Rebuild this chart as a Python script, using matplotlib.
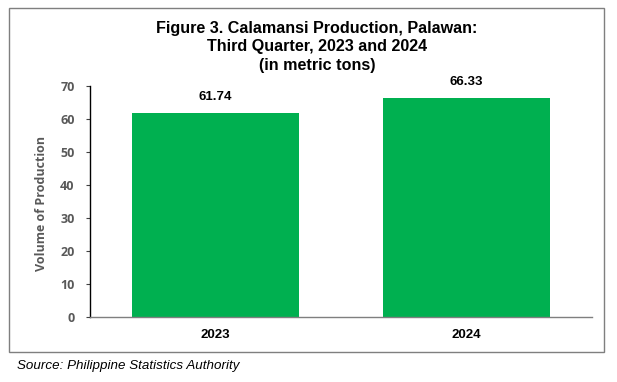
import matplotlib
matplotlib.use("Agg")
import matplotlib.pyplot as plt
from matplotlib.patches import Rectangle

categories = ["2023", "2024"]
values = [61.74, 66.33]
yticks = [0, 10, 20, 30, 40, 50, 60, 70]

W, H = 617, 382
fig = plt.figure(figsize=(W/100, H/100), dpi=100)

# outer border
fig.patches.append(Rectangle((9/W, 1-352/H), (604-9)/W, (352-8)/H, transform=fig.transFigure,
                             fill=False, edgecolor="#7f7f7f", linewidth=1.0))

ax = fig.add_axes([90/W, 1-316.5/H, (592-90)/W, (316.5-86)/H])
x = range(len(categories))
bars = ax.bar(x, values, width=0.665, color="#00B050", zorder=2)
ax.set_xlim(-0.5, 1.5)
ax.set_ylim(0, 70)
ax.set_yticks(yticks)
ax.set_xticks(list(x))
ax.set_xticklabels(categories, fontfamily="Liberation Sans", fontweight="bold", fontsize=9.5, color="black")
for lab in ax.get_yticklabels():
    lab.set_fontfamily("Open Sans"); lab.set_fontweight("bold"); lab.set_fontsize(9); lab.set_color("#595959")
ax.tick_params(axis="y", direction="out", length=3, width=0.8, color="#404040", pad=8)
ax.tick_params(axis="x", length=0, pad=9)
for s in ["top", "right"]:
    ax.spines[s].set_visible(False)
ax.spines["left"].set_color("black")
ax.spines["left"].set_linewidth(1.0)
ax.spines["bottom"].set_color("#7f7f7f")
ax.spines["bottom"].set_linewidth(1.0)

for b, v in zip(bars, values):
    ax.annotate(f"{v:.2f}", (b.get_x()+b.get_width()/2, v), xytext=(0, 7), textcoords="offset points",
                ha="center", va="bottom", fontfamily="Liberation Sans", fontweight="bold", fontsize=9.5)

ax.set_ylabel("Volume of Production", fontfamily="Open Sans", fontweight="bold", fontsize=9,
              color="#595959")
ax.yaxis.set_label_coords(-42/(592-90), 0.49)

fig.text(317/W, 1-47/H, "Figure 3. Calamansi Production, Palawan:\nThird Quarter, 2023 and 2024\n(in metric tons)",
         ha="center", va="center", fontfamily="Liberation Sans", fontweight="bold", fontsize=11.6,
         linespacing=1.27)

fig.text(17/W, 1-366/H, "Source: Philippine Statistics Authority", ha="left", va="center",
         fontfamily="Liberation Sans", fontstyle="italic", fontsize=9.6)

fig.savefig("out.png", dpi=100)
